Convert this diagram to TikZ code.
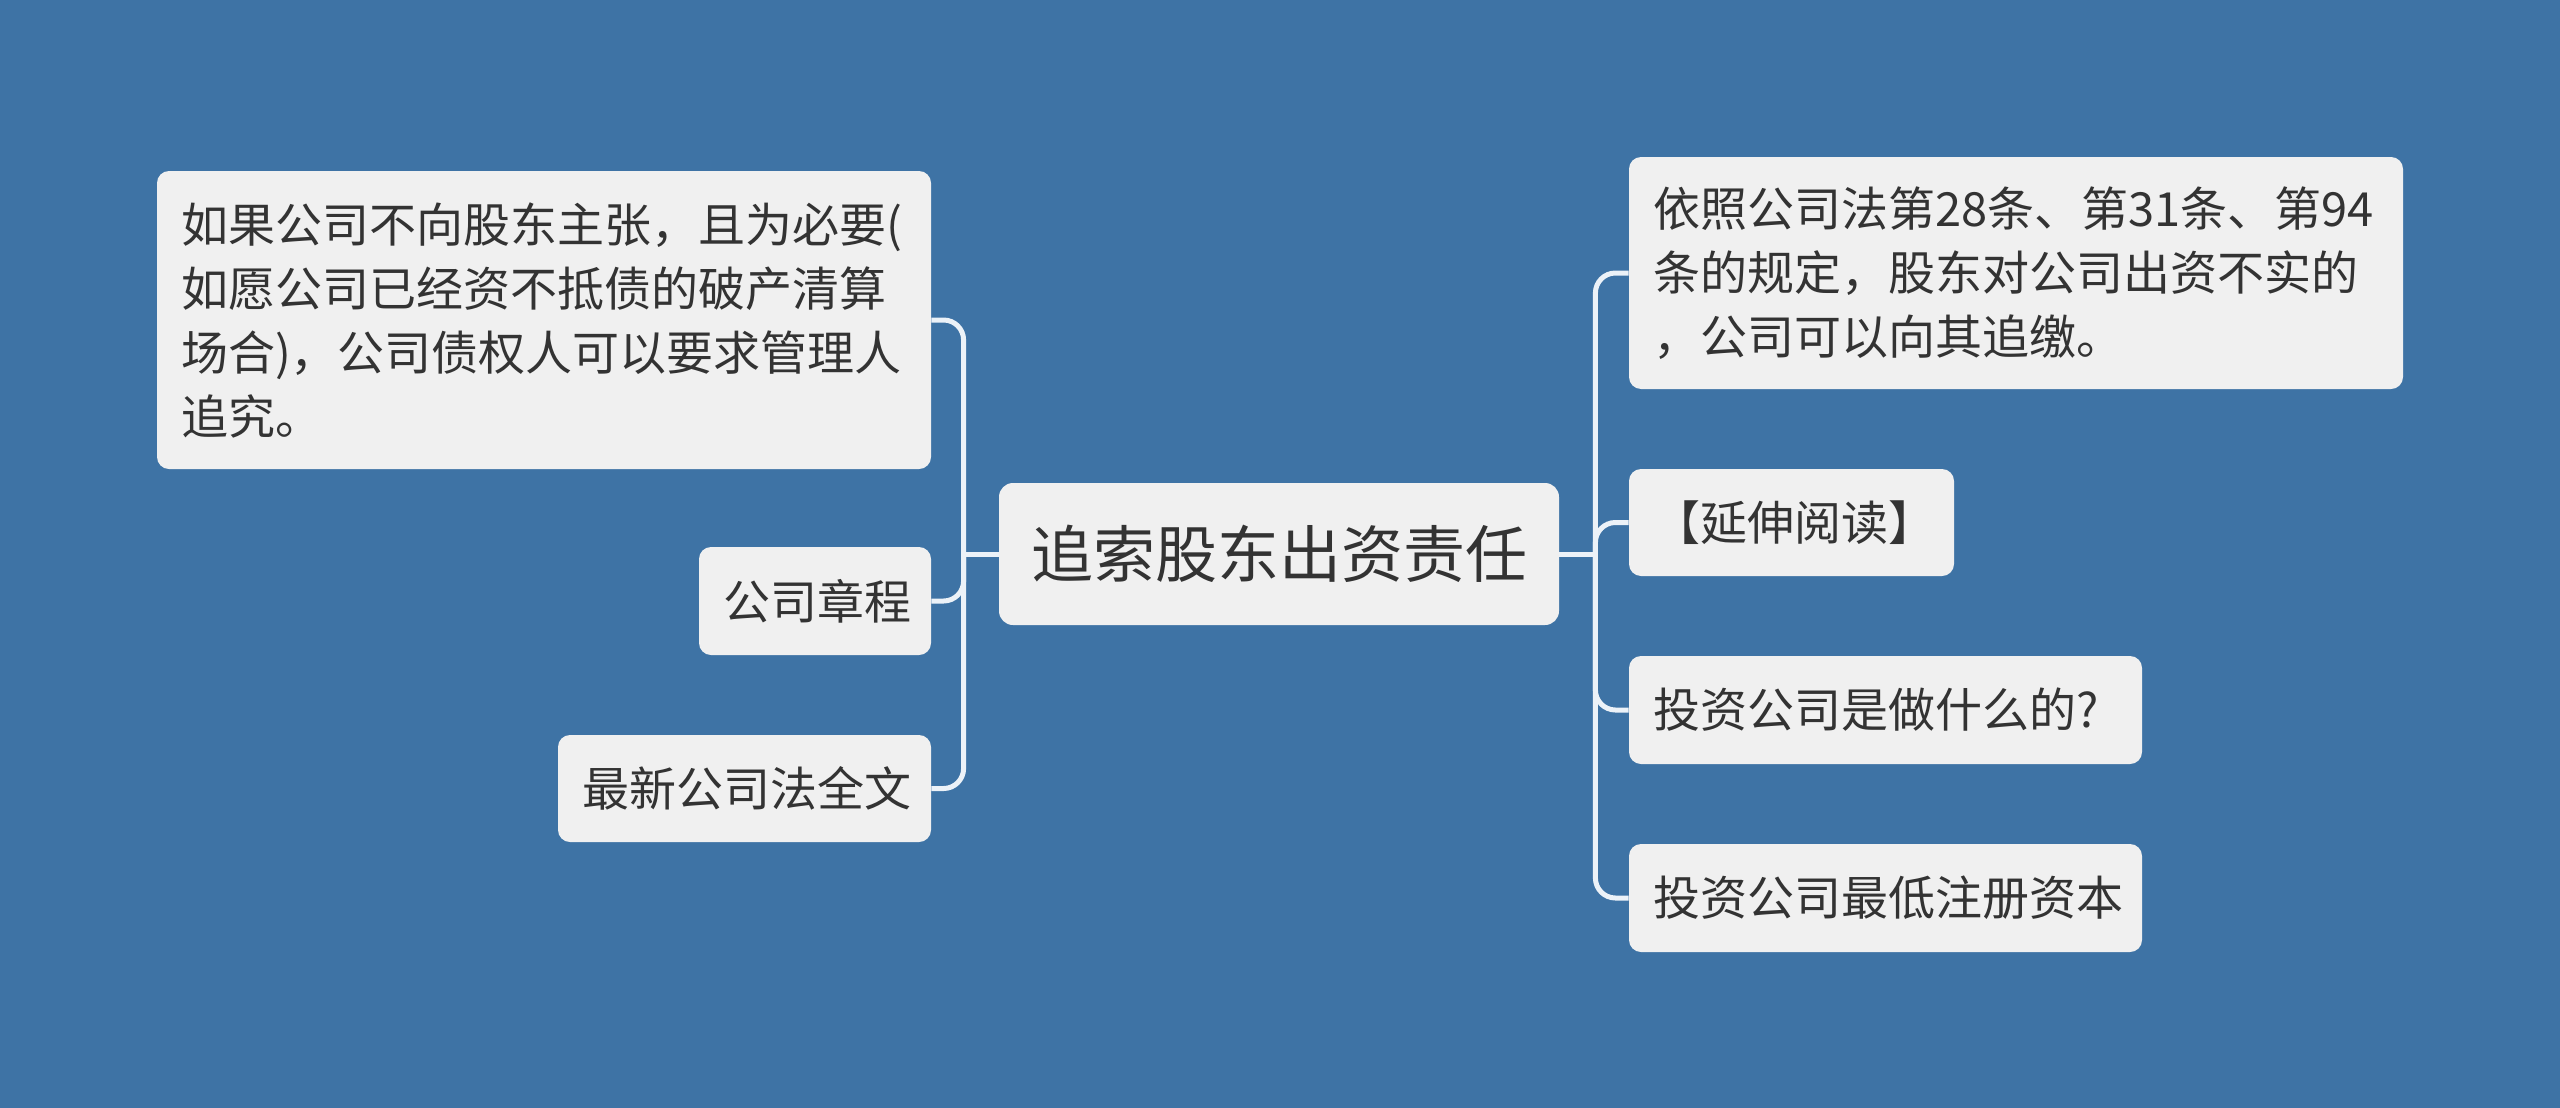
\documentclass[tikz,border=0pt]{standalone}
\usepackage{fontspec}
\newfontfamily\cjk{Noto Sans CJK SC}
\definecolor{bgblue}{RGB}{62,115,165}
\definecolor{boxgray}{RGB}{240,240,240}
\definecolor{txtgray}{RGB}{51,51,51}
\definecolor{linkwhite}{RGB}{236,242,248}
\begin{document}
\begin{tikzpicture}[x=0.5pt,y=-0.5pt,
  topic/.style={fill=boxgray,rounded corners=6pt,text=txtgray,inner xsep=12pt,inner ysep=0pt,
    align=left,font=\cjk\fontsize{23.5}{32}\selectfont},
  root/.style={fill=boxgray,rounded corners=7pt,text=txtgray,align=center,
    font=\cjk\fontsize{31}{38}\selectfont},
  link/.style={draw=linkwhite,line width=2.5pt,rounded corners=10pt}]
\fill[bgblue] (0,0) rectangle (2560,1108);
\node[root,minimum width=280pt,minimum height=71pt] (root) at (1279,554){追索股东出资责任};
% left side
\node[topic,text width=363pt,minimum height=149pt] (claim) at (544,320){如果公司不向股东主张，且为必要(\\如愿公司已经资不抵债的破产清算\\场合)，公司债权人可以要求管理人\\追究。};
\node[topic,text width=92pt,minimum height=54pt] (charter) at (815,601){公司章程};
\node[topic,text width=162.5pt,minimum height=53.5pt] (lawtext) at (744.5,788.5){最新公司法全文};
% right side
\node[topic,text width=363pt,minimum height=116pt] (article) at (2016,273){依照公司法第28条、第31条、第94\\条的规定，股东对公司出资不实的\\，公司可以向其追缴。};
\node[topic,text width=138.5pt,minimum height=53.5pt] (further) at (1791.5,522.5){【延伸阅读】};
\node[topic,text width=232.5pt,minimum height=54pt] (invest) at (1885.5,710){投资公司是做什么的?};
\node[topic,text width=232.5pt,minimum height=54pt] (capital) at (1885.5,898){投资公司最低注册资本};
% links
\draw[link] (root.west) -- ++(-35,0) coordinate (lefttrunk);
\draw[link] (root.east) -- ++(36,0) coordinate (righttrunk);
\foreach \n in {claim,charter,lawtext}
  \draw[link] (lefttrunk) |- (\n.east);
\foreach \n in {article,further,invest,capital}
  \draw[link] (righttrunk) |- (\n.west);
\end{tikzpicture}
\end{document}
